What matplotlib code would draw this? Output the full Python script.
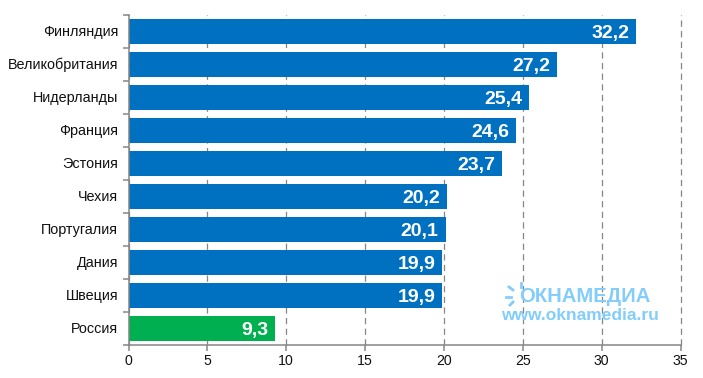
import matplotlib
matplotlib.use("Agg")
import matplotlib.pyplot as plt
from matplotlib.lines import Line2D
from matplotlib.transforms import ScaledTranslation

countries = ["Финляндия", "Великобритания", "Нидерланды", "Франция", "Эстония",
             "Чехия", "Португалия", "Дания", "Швеция", "Россия"]
values = [32.2, 27.2, 25.4, 24.6, 23.7, 20.2, 20.1, 19.9, 19.9, 9.3]
labels = ["32,2", "27,2", "25,4", "24,6", "23,7", "20,2", "20,1", "19,9", "19,9", "9,3"]
bar_colors = ["#0070C0"] * 9 + ["#00B050"]
xticks = [0, 5, 10, 15, 20, 25, 30, 35]

plt.rcParams["font.family"] = ["Liberation Sans", "DejaVu Sans"]
W, H = 703, 378
fig = plt.figure(figsize=(W / 100, H / 100), dpi=100, facecolor="white")
ax = fig.add_axes([128.5 / W, 1 - 344.5 / H, 552 / W, 329.5 / H])

y = list(range(len(countries)))
ax.barh(y, values, height=0.76, color=bar_colors, zorder=3)
ax.set_ylim(len(countries) - 0.5, -0.5)
ax.set_xlim(0, 35)
ax.set_xticks(xticks)
ax.set_yticks([i - 0.5 for i in range(len(countries) + 1)], minor=False)
ax.set_yticklabels([""] * (len(countries) + 1))
ax.set_yticks(y, countries, minor=True)
ax.tick_params(axis="y", which="minor", length=0, labelsize=10.4, pad=7.5, labelcolor="#111111")
shift = ScaledTranslation(0, 1 / 100, fig.dpi_scale_trans)
for lab in ax.get_yticklabels(minor=True):
    lab.set_transform(lab.get_transform() + shift)
ax.tick_params(axis="y", which="major", length=4, width=1.1, color="#868686")
ax.tick_params(axis="x", length=4, width=1.1, color="#868686", labelsize=10.2, pad=3, labelcolor="#111111")
ax.grid(axis="x", color="#868686", linestyle=(0, (5, 3.5)), linewidth=0.9, zorder=1, clip_on=False)
ax.set_axisbelow(True)
for s in ["top", "right"]:
    ax.spines[s].set_visible(False)
for s in ["left", "bottom"]:
    ax.spines[s].set_color("#868686")
    ax.spines[s].set_linewidth(1.1)
    ax.spines[s].set_zorder(4)

for i, (v, t) in enumerate(zip(values, labels)):
    ax.text(v - 0.45, i + 0.07, t, color="white", fontsize=14, fontweight="bold",
            ha="right", va="center", zorder=5)

wm = "#82CDFB"
fig.text(519 / W, 1 - 296 / H, "ОКНАМЕДИА", color=wm, fontsize=14.6, fontweight="bold",
         ha="left", va="center", zorder=6)
fig.text(501 / W, 1 - 316 / H, "www.oknamedia.ru", color=wm, fontsize=12.5, fontweight="bold",
         ha="left", va="center", zorder=6)
for x0, y0, x1, y1 in [(506, 297, 511, 297), (509, 287, 513, 290), (521, 283, 521, 287),
                       (510, 305, 513, 302)]:
    fig.add_artist(Line2D([x0 / W, x1 / W], [1 - y0 / H, 1 - y1 / H], color=wm, lw=2, zorder=6))

fig.savefig("out.png", dpi=100, facecolor="white")
